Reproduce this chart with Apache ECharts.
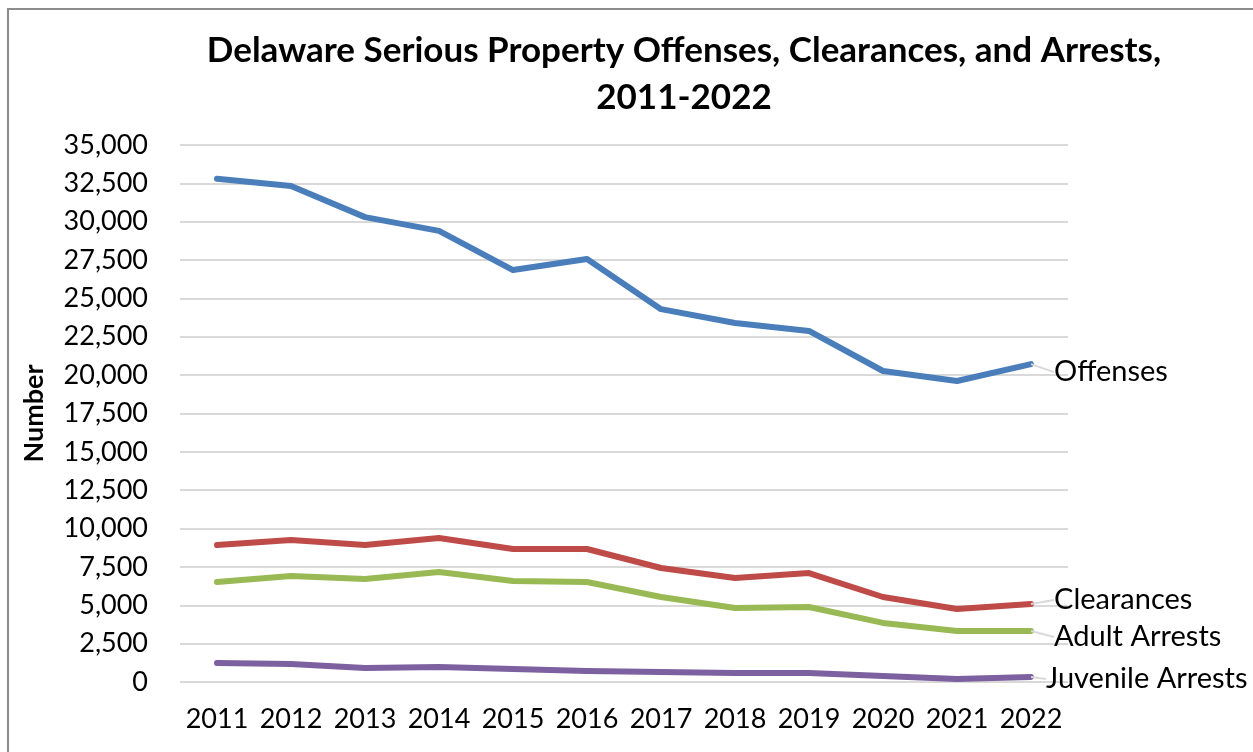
<!DOCTYPE html>
<html>
<head>
<meta charset="utf-8">
<script src="https://cdn.jsdelivr.net/npm/echarts@6/dist/echarts.min.js"></script>
<style>
  html, body {margin: 0; padding: 0; background: #fff;}
  #main {width: 1253px; height: 752px;}
</style>
</head>
<body>
<div id="main"></div>
<script>
// data
var years = ['2011','2012','2013','2014','2015','2016','2017','2018','2019','2020','2021','2022']
var offenses = [32800, 32330, 30300, 29400, 26850, 27570, 24300, 23400, 22880, 20270, 19620, 20720]
var clearances = [8930, 9250, 8930, 9380, 8670, 8670, 7430, 6780, 7100, 5540, 4760, 5080]
var adultArrests = [6520, 6910, 6710, 7170, 6580, 6520, 5540, 4820, 4890, 3850, 3320, 3320]
var juvenileArrests = [1240, 1170, 910, 980, 850, 720, 650, 590, 590, 390, 200, 330]

var font = 'Lato'

function makeSeries(name, values, color, dx, dy) {
  var data = values.map(function (v, i) {
    if (i === values.length - 1) {
      return {
        value: v,
        label: {
          show: true,
          position: 'right',
          distance: 0,
          formatter: name,
          color: '#000',
          fontFamily: font,
          fontSize: 29
        }
      }
    }
    return v
  })
  return {
    name: name,
    type: 'line',
    symbol: 'circle',
    symbolSize: 0.1,
    showSymbol: true,
    clip: false,
    data: data,
    lineStyle: {color: color, width: 6, cap: 'round', join: 'round'},
    itemStyle: {color: color},
    labelLayout: {dx: dx, dy: dy},
    labelLine: {show: true, lineStyle: {color: '#d9d9d9', width: 2}},
    emphasis: {disabled: true}
  }
}

var chart = echarts.init(document.getElementById('main'))
chart.setOption({
  animation: false,
  title: {
    text: 'Delaware Serious Property Offenses, Clearances, and Arrests,\n2011-2022',
    left: 679,
    top: 22,
    textAlign: 'center',
    textStyle: {
      fontFamily: font,
      fontWeight: 'bold',
      fontSize: 35,
      lineHeight: 47,
      color: '#000'
    }
  },
  graphic: [{
    type: 'rect',
    shape: {x: 8, y: 9, width: 1300, height: 800},
    style: {fill: 'none', stroke: '#8c8c8c', lineWidth: 2},
    silent: true
  }],
  grid: {left: 180, right: 185, top: 145, bottom: 70},
  xAxis: {
    type: 'category',
    data: years,
    boundaryGap: true,
    axisLine: {show: false},
    axisTick: {show: false},
    axisLabel: {interval: 0, color: '#000', fontFamily: font, fontSize: 27, margin: 24}
  },
  yAxis: {
    type: 'value',
    min: 0,
    max: 35000,
    interval: 2500,
    name: 'Number',
    nameLocation: 'middle',
    nameGap: 132,
    nameTextStyle: {color: '#000', fontFamily: font, fontWeight: 'bold', fontSize: 27},
    axisLine: {show: false},
    axisTick: {show: false},
    splitLine: {lineStyle: {color: '#d9d9d9', width: 2}},
    axisLabel: {
      color: '#000',
      fontFamily: font,
      fontSize: 27,
      margin: 32,
      formatter: function (v) { return v.toLocaleString('en-US') }
    }
  },
  series: [
    makeSeries('Offenses', offenses, '#4a7ebb', 23, 8),
    makeSeries('Clearances', clearances, '#be4b48', 23, -4),
    makeSeries('Adult Arrests', adultArrests, '#98b954', 23, 6),
    makeSeries('Juvenile Arrests', juvenileArrests, '#7d60a0', 15, 2)
  ]
})
</script>
</body>
</html>
